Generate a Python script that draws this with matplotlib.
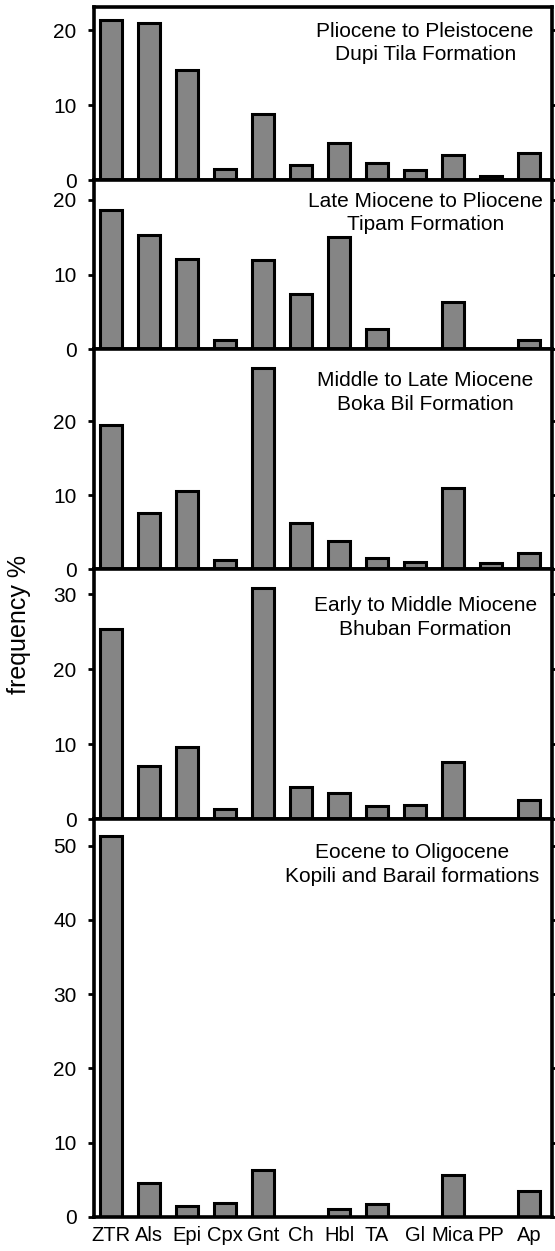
import numpy as np
import matplotlib
matplotlib.use("Agg")
import matplotlib.pyplot as plt

# === Data ===
minerals = ["ZTR", "Als", "Epi", "Cpx", "Gnt", "Ch", "Hbl", "TA", "Gl", "Mica", "PP", "Ap"]

dupi_tila = [21.3, 20.9, 14.7, 1.5, 8.8, 2.0, 4.9, 2.3, 1.4, 3.3, 0.6, 3.6]
tipam = [18.6, 15.3, 12.1, 1.2, 12.0, 7.4, 15.0, 2.7, 0.0, 6.3, 0.0, 1.2]
boka_bil = [19.4, 7.6, 10.6, 1.3, 27.2, 6.2, 3.8, 1.5, 1.0, 10.9, 0.8, 2.2]
bhuban = [25.4, 7.1, 9.6, 1.3, 30.9, 4.3, 3.5, 1.8, 1.9, 7.6, 0.0, 2.5]
kopili_barail = [51.3, 4.6, 1.5, 1.8, 6.3, 0.0, 1.0, 1.7, 0.0, 5.6, 0.0, 3.4]

labels = [
    "Pliocene to Pleistocene\nDupi Tila Formation",
    "Late Miocene to Pliocene\nTipam Formation",
    "Middle to Late Miocene\nBoka Bil Formation",
    "Early to Middle Miocene\nBhuban Formation",
    "Eocene to Oligocene\nKopili and Barail formations",
]
series = [dupi_tila, tipam, boka_bil, bhuban, kopili_barail]
y_max = [23.07, 22.66, 29.67, 33.34, 53.6]
y_ticks = [[0, 10, 20], [0, 10, 20], [0, 10, 20], [0, 10, 20, 30], [0, 10, 20, 30, 40, 50]]

# === Layout (pixels of the 555x1251 picture) ===
panel_px = [173, 169.3, 220, 249.7, 397.7]
text_top_px = [15, 11.7, 21.7, 27, 24]
text_x = [0.723, 0.723, 0.723, 0.723, 0.694]

plt.rcParams["font.family"] = ["Liberation Sans", "DejaVu Sans"]

fig = plt.figure(figsize=(5.55, 12.51), dpi=100)
gs = fig.add_gridspec(5, 1, height_ratios=panel_px, hspace=0,
                      left=94 / 555, right=552 / 555,
                      top=1 - 7 / 1251, bottom=1 - 1216.7 / 1251)

x = np.arange(len(minerals))

for i, vals in enumerate(series):
    ax = fig.add_subplot(gs[i])
    ax.bar(x, vals, width=0.58, color="#858585", edgecolor="black", linewidth=2.2)
    ax.set_xlim(-0.447, 11.6)
    ax.set_ylim(0, y_max[i])
    ax.set_yticks(y_ticks[i])
    for s in ax.spines.values():
        s.set_linewidth(2.6)
    ax.tick_params(axis="y", direction="out", length=4.5, width=2.0,
                   labelsize=15, pad=8, right=True)
    if i < 4:
        ax.set_xticks([])
    else:
        ax.set_xticks(x)
        ax.set_xticklabels(minerals)
        ax.tick_params(axis="x", length=0, labelsize=14.5, pad=7)
    ax.annotate(labels[i], xy=(text_x[i], 1), xycoords="axes fraction",
                xytext=(0, -text_top_px[i] * 0.72), textcoords="offset points",
                ha="center", va="top", multialignment="center",
                fontsize=15, linespacing=1.3)

fig.text(19 / 555, 1 - 624 / 1251, "frequency %", rotation=90,
         ha="center", va="center", fontsize=18)

plt.savefig("out.png", dpi=100)
